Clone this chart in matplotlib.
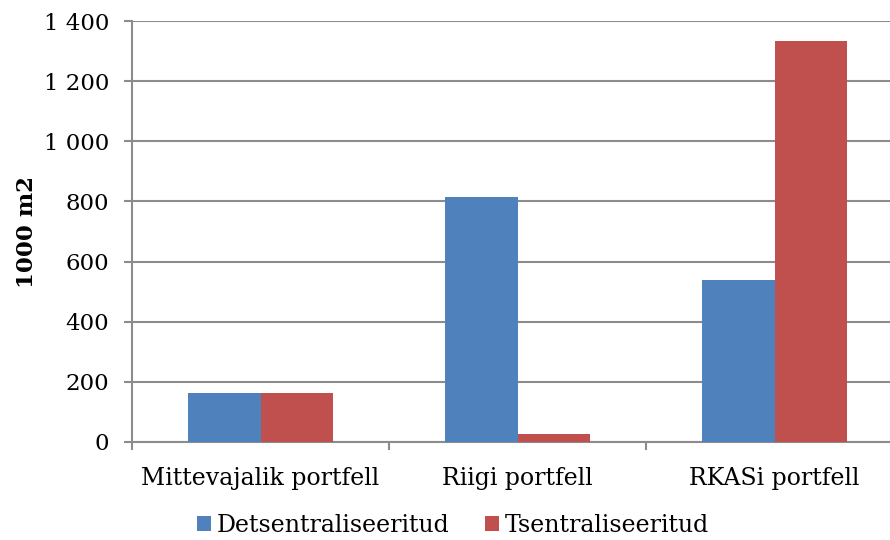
import matplotlib
matplotlib.use("Agg")
import matplotlib.pyplot as plt
import numpy as np
from matplotlib.ticker import FuncFormatter, FixedLocator

categories = ["Mittevajalik portfell", "Riigi portfell", "RKASi portfell"]
series_names = ["Detsentraliseeritud", "Tsentraliseeritud"]
detsentraliseeritud = [162, 816, 540]
tsentraliseeritud = [162, 28, 1332]
y_ticks = [0, 200, 400, 600, 800, 1000, 1200, 1400]

colors = ["#4F81BD", "#C0504D"]
grid_color = "#8C8C8C"

plt.rcParams["font.family"] = ["DejaVu Serif"]

fig = plt.figure(figsize=(8.9, 5.4), dpi=100)
ax = fig.add_axes([132 / 890, 1 - 442 / 540, 771 / 890, 421 / 540])

x = np.arange(len(categories))
w = 0.284
ax.bar(x - w / 2, detsentraliseeritud, w, color=colors[0], label=series_names[0], zorder=3)
ax.bar(x + w / 2, tsentraliseeritud, w, color=colors[1], label=series_names[1], zorder=3)

ax.set_xlim(-0.5, len(categories) - 0.5)
ax.set_ylim(0, 1400)
ax.yaxis.set_major_locator(FixedLocator(y_ticks))
ax.yaxis.set_major_formatter(FuncFormatter(lambda v, p: f"{int(v):,}".replace(",", " ")))
ax.yaxis.grid(True, color=grid_color, linewidth=1.5, zorder=0)

ax.set_xticks(x)
ax.set_xticklabels(categories, fontsize=17)
ax.xaxis.set_minor_locator(FixedLocator(np.arange(-0.5, len(categories), 1.0)))
ax.tick_params(axis="x", which="major", length=0, pad=18)
ax.tick_params(axis="x", which="minor", length=5.5, width=1.5, color=grid_color, direction="out")
ax.tick_params(axis="y", length=5.5, width=1.5, color=grid_color, labelsize=16.5, pad=11)

for side in ["top", "right"]:
    ax.spines[side].set_visible(False)
for side in ["left", "bottom"]:
    ax.spines[side].set_color(grid_color)
    ax.spines[side].set_linewidth(1.5)

ax.set_ylabel("1000 m2", fontsize=16.5, fontweight="bold", labelpad=4)

fig.legend(loc="center", ncol=2, frameon=False, fontsize=17,
           bbox_to_anchor=(453 / 890, 1 - 525 / 540), handlelength=0.6, handleheight=0.6,
           handletextpad=0.25, columnspacing=1.5)

fig.savefig("out.png", dpi=100)
